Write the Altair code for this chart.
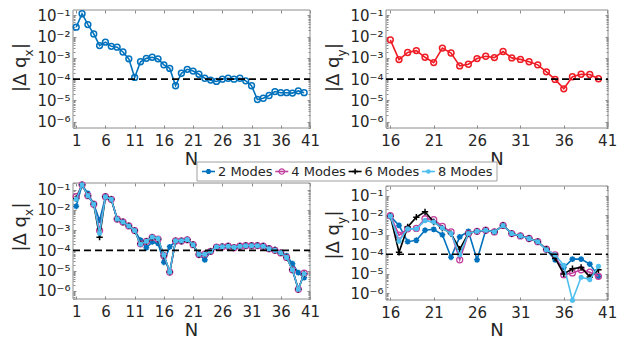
import altair as alt
import pandas as pd

# ---------------- data ----------------
N_full = list(range(1, 41))
N_half = list(range(16, 41))

top_dqx = [0.028, 0.12, 0.037, 0.0135, 0.0038, 0.0055, 0.0035, 0.0032, 0.0019, 0.0009,
           0.00012, 0.00066, 0.00095, 0.00107, 0.0009, 0.00047, 0.00032, 4.9e-5, 1.9e-4, 2.9e-4,
           2.4e-4, 1.7e-4, 1.1e-4, 9e-5, 7.8e-5, 1.0e-4, 1.1e-4, 1.0e-4, 1.1e-4, 8.3e-5,
           4.9e-5, 1.1e-5, 1.26e-5, 1.7e-5, 2.6e-5, 2.3e-5, 2.3e-5, 2.2e-5, 2.8e-5, 2.3e-5]

top_dqy = [0.0071, 8.3e-4, 1.8e-3, 2.2e-3, 1.07e-3, 6e-4, 2.9e-3, 1.7e-3, 4.2e-4, 5e-4,
           9.3e-4, 1.2e-3, 1.03e-3, 2.0e-3, 1.0e-3, 8.5e-4, 6.6e-4, 4.7e-4, 2.2e-4, 9.7e-5,
           3.5e-5, 1.3e-4, 1.7e-4, 1.65e-4, 1.04e-4]

dqx_2 = [0.015, 0.17, 0.064, 0.019, 0.003, 0.044, 0.033, 0.0035, 0.0025, 0.0016,
         9.5e-4, 3.2e-4, 1.35e-4, 2.6e-4, 2.2e-4, 2.6e-5, 1.5e-4, 2.8e-4, 2.8e-4, 3.4e-4,
         1.8e-4, 6.4e-5, 3.4e-5, 8.7e-5, 1.5e-4, 1.6e-4, 1.7e-4, 1.4e-4, 1.7e-4, 1.8e-4,
         1.8e-4, 1.8e-4, 1.7e-4, 1.3e-4, 1.1e-4, 8e-5, 5.5e-5, 2.2e-5, 8e-6, 4.5e-6]
dqx_4 = [0.045, 0.17, 0.05, 0.019, 9.5e-4, 0.044, 0.033, 0.0035, 0.0025, 0.0016,
         9.5e-4, 2.1e-4, 2.8e-4, 4.4e-4, 3.6e-4, 5.5e-5, 8.5e-6, 2.9e-4, 2.9e-4, 3.3e-4,
         1.9e-4, 6.2e-5, 6.6e-5, 9e-5, 1.45e-4, 1.5e-4, 1.6e-4, 1.35e-4, 1.6e-4, 1.7e-4,
         1.7e-4, 1.7e-4, 1.6e-4, 1.2e-4, 1.0e-4, 7.5e-5, 4.5e-5, 1.1e-5, 1.2e-6, 7.5e-6]
dqx_6 = [0.035, 0.17, 0.05, 0.019, 4.5e-4, 0.044, 0.033, 0.0035, 0.0025, 0.0016,
         9.5e-4, 2.1e-4, 2.8e-4, 4.4e-4, 3.6e-4, 5.5e-5, 8.5e-6, 2.9e-4, 2.9e-4, 3.3e-4,
         1.9e-4, 6.2e-5, 6.6e-5, 9e-5, 1.45e-4, 1.5e-4, 1.6e-4, 1.35e-4, 1.6e-4, 1.7e-4,
         1.7e-4, 1.7e-4, 1.6e-4, 1.2e-4, 1.0e-4, 7.5e-5, 4.5e-5, 1.1e-5, 1.2e-6, 7e-6]
dqx_8 = [0.033, 0.17, 0.05, 0.019, 7e-4, 0.044, 0.033, 0.0035, 0.0025, 0.0016,
         9.5e-4, 2.0e-4, 2.8e-4, 4.6e-4, 3.8e-4, 5.9e-5, 8.7e-6, 3.0e-4, 3.0e-4, 3.4e-4,
         1.9e-4, 6.4e-5, 6.4e-5, 9e-5, 1.5e-4, 1.5e-4, 1.6e-4, 1.4e-4, 1.6e-4, 1.7e-4,
         1.7e-4, 1.7e-4, 1.6e-4, 1.2e-4, 1.0e-4, 7.5e-5, 4.5e-5, 1.1e-5, 1.2e-6, 7e-6]

dqy_2 = [0.009, 3e-3, 4.4e-4, 5.2e-4, 1.7e-3, 1.9e-3, 1.0e-3, 7e-5, 7.8e-4, 1.5e-3,
         5.2e-5, 1.7e-3, 1.4e-3, 3e-3, 1.15e-3, 8.7e-4, 6.4e-4, 4.4e-4, 1.7e-4, 5.2e-5,
         2.1e-5, 5.6e-5, 5.6e-5, 3.1e-5, 7.4e-6]
dqy_4 = [0.0095, 9.5e-4, 2e-3, 2.1e-3, 6.6e-3, 6e-3, 2.7e-3, 1.4e-3, 5.2e-5, 1.15e-3,
         1.5e-3, 1.7e-3, 1.4e-3, 3e-3, 1.15e-3, 8.7e-4, 6.4e-4, 4.4e-4, 1.8e-4, 9.3e-5,
         9e-6, 1.1e-5, 1.6e-5, 1.2e-5, 7.4e-6]
dqy_6 = [0.009, 1.26e-4, 2.5e-3, 8e-3, 0.015, 4.5e-3, 2.2e-3, 1.15e-3, 1.8e-4, 1.15e-3,
         1.5e-3, 1.7e-3, 1.4e-3, 3e-3, 1.15e-3, 8.7e-4, 6.4e-4, 4.4e-4, 1.8e-4, 6.3e-5,
         9.8e-6, 1.8e-5, 2.1e-5, 6.9e-6, 1.6e-5]
dqy_8 = [0.009, 4.7e-4, 2e-3, 2e-3, 5.3e-3, 4.5e-3, 2.2e-3, 1.15e-3, 9.3e-5, 1.15e-3,
         1.5e-3, 1.7e-3, 1.4e-3, 3e-3, 1.15e-3, 8.7e-4, 6.4e-4, 4.4e-4, 1.7e-4, 9.3e-5,
         2.7e-5, 4.4e-7, 6.6e-6, 5e-6, 2.4e-5]

MODES = ["2 Modes", "4 Modes", "6 Modes", "8 Modes"]
X_TICKS_FULL = [1, 6, 11, 16, 21, 26, 31, 36, 41]
X_TICKS_HALF = [16, 21, 26, 31, 36, 41]
Y_TICKS = [1e-6, 1e-5, 1e-4, 1e-3, 1e-2, 1e-1]
THRESHOLD = 1e-4

# ---------------- style / layout ----------------
TW, TH = 611, 331          # whole drawing (svg) size
FONT = "DejaVu Sans"
TXT = "#262626"
FRAME = "#8c8c8c"
BLUE = "#0072BD"
RED = "#EE1C25"
MODE_COLORS = ["#0072BD", "#C0409E", "#000000", "#4DBEEE"]
ASTERISK = "M0,-1L0,1M-1,0L1,0M-0.7,-0.7L0.7,0.7M-0.7,0.7L0.7,-0.7"
PLUS = "M0,-1L0,1M-1,0L1,0"
MODE_MARKS = [  # shape, filled, size, strokeWidth
    (ASTERISK, False, 34, 1.6),
    ("circle", False, 36, 1.3),
    (PLUS, False, 40, 1.5),
    ("circle", True, 26, 1.0),
]
TOP_MARK = ("circle", False, 34, 1.5)
LABEL_EXPR = "'10' + ['⁰','⁻¹','⁻²','⁻³','⁻⁴','⁻⁵','⁻⁶','⁻⁷'][-round(log(datum.value)/LN10)]"
TK = 3  # tick length


def make_df(ns, vs):
    return pd.DataFrame({"N": ns, "v": vs})


def panel(series, xdom, ydom, xticks, sub, box, title_y, n_gap):
    x0, x1, y0, y1 = box   # plot rectangle in pixels (left, right, top, bottom)
    xs = alt.Scale(domain=xdom, range=[x0, x1], nice=False, zero=False)
    ys = alt.Scale(type="log", domain=ydom, range=[y1, y0], nice=False)
    minor = [m * 10.0 ** k for k in range(-8, 0) for m in range(2, 10)
             if ydom[0] <= m * 10.0 ** k <= ydom[1]]
    base_df = series[0][0]
    common = dict(domain=False, grid=False, title=None, tickColor=FRAME, tickWidth=1,
                  labelFlush=False, labelOverlap=False)
    lab = dict(labelFontSize=15, labelFont=FONT, labelColor=TXT)

    def ax(xaxis, yaxis):
        return alt.Chart(base_df).mark_point(opacity=0).encode(
            x=alt.X("N:Q", scale=xs, axis=xaxis),
            y=alt.Y("v:Q", scale=ys, axis=yaxis))

    layers = [
        alt.Chart(pd.DataFrame({"a": [0]})).mark_rect(
            fillOpacity=0, stroke=FRAME, strokeWidth=1).encode(
            x=alt.value(x0), x2=alt.value(x1), y=alt.value(y0), y2=alt.value(y1)),
        ax(alt.Axis(orient="bottom", values=xticks, offset=-(TH - y1 + TK), tickSize=TK,
                    labelPadding=5, **lab, **common),
           alt.Axis(orient="left", values=Y_TICKS, offset=-(x0 + TK), tickSize=TK,
                    labelPadding=3, labelExpr=LABEL_EXPR, **lab, **common)),
        ax(alt.Axis(orient="top", values=xticks, offset=-(y0 + TK), tickSize=TK,
                    labels=False, **common),
           alt.Axis(orient="right", values=Y_TICKS, offset=-(TW - x1 + TK), tickSize=TK,
                    labels=False, **common)),
        ax(None, alt.Axis(orient="left", values=minor, offset=-(x0 + 2), tickSize=2,
                          labels=False, **common)),
        ax(None, alt.Axis(orient="right", values=minor, offset=-(TW - x1 + 2), tickSize=2,
                          labels=False, **common)),
    ]
    for df, color, shape, filled, size, sw in series:
        enc = dict(x=alt.X("N:Q", scale=xs, axis=None), y=alt.Y("v:Q", scale=ys, axis=None))
        layers.append(alt.Chart(df).mark_line(color=color, strokeWidth=1.6).encode(**enc))
        layers.append(alt.Chart(df).mark_point(shape=shape, filled=filled, color=color, size=size,
                                               strokeWidth=sw, opacity=1).encode(**enc))
    layers.append(alt.Chart(pd.DataFrame({"a": [xdom[0]], "b": [xdom[1]], "v": [THRESHOLD]})).mark_rule(
        color="black", strokeDash=[7, 4], strokeWidth=1.6).encode(
        x=alt.X("a:Q", scale=xs, axis=None), x2="b:Q",
        y=alt.Y("v:Q", scale=ys, axis=None)))
    # y title  |Δ q_sub|   (rotated, read bottom to top)
    tx = x0 - 52
    yA = title_y + 24.5 - 35.5
    layers.append(alt.Chart(pd.DataFrame({"t": ["|Δ q"]})).mark_text(
        angle=270, align="right", baseline="middle", font=FONT, fontSize=18, color=TXT).encode(
        x=alt.value(tx), y=alt.value(yA), text="t:N"))
    layers.append(alt.Chart(pd.DataFrame({"t": [sub]})).mark_text(
        angle=270, align="left", baseline="middle", font=FONT, fontSize=12, color=TXT).encode(
        x=alt.value(tx + 8), y=alt.value(yA), text="t:N"))
    layers.append(alt.Chart(pd.DataFrame({"t": ["|"]})).mark_text(
        angle=270, align="left", baseline="middle", font=FONT, fontSize=18, color=TXT).encode(
        x=alt.value(tx), y=alt.value(yA - 7.5), text="t:N"))
    # x title
    layers.append(alt.Chart(pd.DataFrame({"t": ["N"]})).mark_text(
        align="center", baseline="middle", font=FONT, fontSize=18, color=TXT).encode(
        x=alt.value((x0 + x1) / 2), y=alt.value(y1 + n_gap), text="t:N"))
    return layers


# legend between the two rows
LX0, LX1, LY0, LY1 = 189, 489, 154, 173
legend_layers = [alt.Chart(pd.DataFrame({"a": [0]})).mark_rect(
    fill="white", stroke="#a0a0a0", strokeWidth=1).encode(
    x=alt.value(LX0), x2=alt.value(LX1), y=alt.value(LY0), y2=alt.value(LY1))]
for i, (name, color, mk) in enumerate(zip(MODES, MODE_COLORS, MODE_MARKS)):
    ex = LX0 + 5 + i * 73.3
    ly = (LY0 + LY1) / 2
    one = pd.DataFrame({"t": [name]})
    legend_layers.append(alt.Chart(one).mark_rule(color=color, strokeWidth=1.6).encode(
        x=alt.value(ex), x2=alt.value(ex + 13), y=alt.value(ly)))
    legend_layers.append(alt.Chart(one).mark_point(shape=mk[0], filled=mk[1], color=color,
                                                   size=mk[2] * 0.8, strokeWidth=mk[3], opacity=1).encode(
        x=alt.value(ex + 6.5), y=alt.value(ly)))
    legend_layers.append(alt.Chart(one).mark_text(align="left", baseline="middle", font=FONT,
                                                  fontSize=13, color=TXT).encode(
        x=alt.value(ex + 16), y=alt.value(ly + 0.5), text="t:N"))

tl = panel([(make_df(N_full, top_dqx), BLUE) + TOP_MARK], [0.45, 41], [5e-7, 0.18],
           X_TICKS_FULL, "x", (65, 302, 2, 120), 59.5, 32)
tr = panel([(make_df(N_half, top_dqy), RED) + TOP_MARK], [15.5, 41.1], [5e-7, 0.18],
           X_TICKS_HALF, "y", (378, 600, 2, 120), 59.5, 32)
bl = panel([(make_df(N_full, s), c) + m for s, c, m in
            zip([dqx_2, dqx_4, dqx_6, dqx_8], MODE_COLORS, MODE_MARKS)],
           [0.45, 41], [4e-7, 0.21], X_TICKS_FULL, "x", (65, 302, 175, 291), 219, 32)
br = panel([(make_df(N_half, s), c) + m for s, c, m in
            zip([dqy_2, dqy_4, dqy_6, dqy_8], MODE_COLORS, MODE_MARKS)],
           [15.5, 41.1], [4.5e-7, 0.316], X_TICKS_HALF, "y", (378, 600, 178, 292), 227, 31)

chart = alt.layer(*(tl + tr + bl + br + legend_layers)).properties(
    width=TW, height=TH, autosize=alt.AutoSizeParams(type="none"),
    padding=0, background="white"
).resolve_scale(x="independent", y="independent").resolve_axis(
    x="independent", y="independent"
).configure_view(stroke=None)

chart.save("out.html", embed_options={"renderer": "svg", "actions": False})
